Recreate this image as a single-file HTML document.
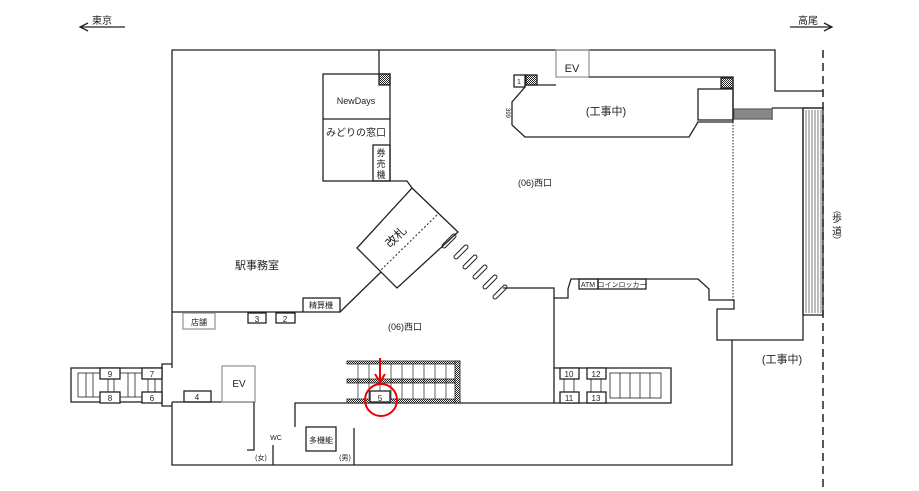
<!DOCTYPE html>
<html><head><meta charset="utf-8"><style>
html,body{margin:0;padding:0;background:#fff;}
svg{display:block;font-family:"Liberation Sans","Noto Sans CJK JP",sans-serif;}
</style></head><body>
<svg width="919" height="491" viewBox="0 0 919 491" xmlns="http://www.w3.org/2000/svg">
<defs>
<pattern id="h" width="2" height="2" patternUnits="userSpaceOnUse"><rect width="2" height="2" fill="#fff"/><rect width="1" height="1" fill="#222"/><rect x="1" y="1" width="1" height="1" fill="#222"/></pattern>
</defs>
<g fill="none" stroke="#222" stroke-width="1.3">
<line x1="80" y1="27" x2="125" y2="27"/><polyline points="88,23 80,27 88,31"/>
<line x1="790" y1="27" x2="832" y2="27"/><polyline points="824,23 832,27 824,31"/>
<polyline points="172,368 172,50 775,50 775,91 823,91"/>
<polyline points="172,402 172,465 732,465 732,340 803,340 803,108 823,108"/>
<polyline points="732,340 717,340 717,309 734,309 734,300 709,300 709,289 698,279 571,279 568,289 568,298 554,298 554,288 503,288"/>
<line x1="554" y1="298" x2="554" y2="368"/>
<line x1="823" y1="50" x2="823" y2="491" stroke-dasharray="8,5" stroke-width="1.5"/>
<rect x="803" y="108" width="20" height="207"/>
<g stroke-width="0.6"><line x1="806" y1="110" x2="806" y2="313"/><line x1="809" y1="110" x2="809" y2="313"/><line x1="812" y1="110" x2="812" y2="313"/><line x1="815" y1="110" x2="815" y2="313"/><line x1="818" y1="110" x2="818" y2="313"/><line x1="821" y1="110" x2="821" y2="313"/></g>
<line x1="772" y1="108" x2="803" y2="108"/><line x1="772" y1="108" x2="772" y2="120"/>
<rect x="734" y="109" width="38" height="10" fill="#888" stroke="#666"/>
<rect x="556" y="50" width="33" height="27" stroke="#999"/>
<polyline points="589,77 733,77 733,122 698,122 689,137 525,137 512,125 512,102 525,87 525,85 556,85"/>
<rect x="698" y="89" width="35" height="31"/>
<rect x="514" y="75" width="11" height="12"/>
<rect x="526" y="75" width="11" height="10" fill="url(#h)"/>
<rect x="721" y="78" width="12" height="10" fill="url(#h)"/>
<line x1="733" y1="122" x2="733" y2="300" stroke-dasharray="1.5,1.5" stroke-width="1"/>
<line x1="379" y1="50" x2="379" y2="74"/>
<rect x="323" y="74" width="67" height="107"/>
<line x1="323" y1="119" x2="390" y2="119"/>
<rect x="373" y="145" width="17" height="36"/>
<rect x="379" y="74" width="11" height="11" fill="url(#h)"/>
<polyline points="390,181 407,181 412,188"/>
<polygon points="412,188 458,232 397,288 357,248"/>
<line x1="437" y1="215" x2="381" y2="270" stroke-dasharray="2,2" stroke-width="1"/>
<line x1="381" y1="272" x2="340" y2="312"/>
<g stroke-width="1"><rect x="-2" y="-9" width="4" height="18" rx="2" transform="translate(449,241) rotate(45)"/><rect x="-2" y="-9" width="4" height="18" rx="2" transform="translate(461,252) rotate(45)"/><rect x="-2" y="-9" width="4" height="18" rx="2" transform="translate(470,262) rotate(45)"/><rect x="-2" y="-9" width="4" height="18" rx="2" transform="translate(480,272) rotate(45)"/><rect x="-2" y="-9" width="4" height="18" rx="2" transform="translate(490,282) rotate(45)"/><rect x="-2" y="-9" width="4" height="18" rx="2" transform="translate(500,292) rotate(45)"/></g>
<line x1="172" y1="312" x2="303" y2="312"/>
<rect x="303" y="298" width="37" height="14"/>
<rect x="183" y="313" width="32" height="16" stroke="#999"/>
<rect x="248" y="313" width="18" height="10"/>
<rect x="276" y="313" width="19" height="10"/>
<rect x="71" y="368" width="91" height="34"/>
<rect x="78" y="373" width="84" height="24" stroke-width="0.8"/>
<g stroke-width="0.8"><line x1="86" y1="373" x2="86" y2="397"/><line x1="93" y1="373" x2="93" y2="397"/><line x1="108" y1="379" x2="108" y2="392"/><line x1="114" y1="379" x2="114" y2="392"/><line x1="128" y1="373" x2="128" y2="397"/><line x1="135" y1="373" x2="135" y2="397"/><line x1="148" y1="379" x2="148" y2="392"/><line x1="155" y1="379" x2="155" y2="392"/></g>
<polyline points="162,368 162,364 172,364"/><polyline points="162,402 162,406 172,406"/>
<rect x="100" y="368" width="20" height="11" fill="#fff"/><rect x="100" y="392" width="20" height="11" fill="#fff"/>
<rect x="142" y="368" width="20" height="11" fill="#fff"/><rect x="142" y="392" width="20" height="11" fill="#fff"/>
<line x1="172" y1="402" x2="254" y2="402"/>
<rect x="184" y="391" width="27" height="11"/>
<rect x="222" y="366" width="33" height="36" stroke="#999"/>
<polyline points="254,402 254,450 247,450"/>
<line x1="273" y1="445" x2="273" y2="465"/>
<line x1="354" y1="428" x2="354" y2="465"/>
<polyline points="295,427 295,403 554,403"/>
<rect x="306" y="427" width="30" height="24"/>
<rect x="347" y="361" width="113" height="3" fill="url(#h)" stroke-width="0.8"/>
<rect x="347" y="379" width="108" height="4" fill="url(#h)" stroke-width="0.8"/>
<rect x="347" y="399" width="113" height="4" fill="url(#h)" stroke-width="0.8"/>
<rect x="455" y="361" width="5" height="42" fill="url(#h)" stroke-width="0.8"/>
<g stroke-width="0.7"><line x1="358" y1="364" x2="358" y2="399"/><line x1="369" y1="364" x2="369" y2="399"/><line x1="380" y1="364" x2="380" y2="399"/><line x1="391" y1="364" x2="391" y2="399"/><line x1="402" y1="364" x2="402" y2="399"/><line x1="413" y1="364" x2="413" y2="399"/><line x1="424" y1="364" x2="424" y2="399"/><line x1="435" y1="364" x2="435" y2="399"/><line x1="446" y1="364" x2="446" y2="399"/></g>
<rect x="370" y="391" width="20" height="11" fill="#fff"/>
<rect x="554" y="368" width="117" height="35"/>
<rect x="610" y="373" width="51" height="25" stroke-width="0.8"/>
<g stroke-width="0.8"><line x1="620" y1="373" x2="620" y2="398"/><line x1="630" y1="373" x2="630" y2="398"/><line x1="640" y1="373" x2="640" y2="398"/><line x1="650" y1="373" x2="650" y2="398"/><line x1="564" y1="379" x2="564" y2="392"/><line x1="574" y1="379" x2="574" y2="392"/><line x1="591" y1="379" x2="591" y2="392"/><line x1="601" y1="379" x2="601" y2="392"/></g>
<rect x="560" y="368" width="19" height="11" fill="#fff"/><rect x="560" y="392" width="19" height="11" fill="#fff"/>
<rect x="587" y="368" width="19" height="11" fill="#fff"/><rect x="587" y="392" width="19" height="11" fill="#fff"/>
<rect x="579" y="279" width="19" height="10"/><rect x="598" y="279" width="48" height="10"/>
</g>
<g stroke="#e00" fill="none" stroke-width="2">
<circle cx="381" cy="400" r="16"/>
<line x1="380" y1="358" x2="380" y2="381"/>
<polyline points="375,374 380,382 385,374"/>
</g>
<g fill="#222" font-size="9" text-anchor="middle">
<text x="102" y="24" font-size="10">東京</text>
<text x="808" y="24" font-size="10">高尾</text>
<text x="572" y="72" font-size="11">EV</text>
<text x="519" y="84" font-size="7">1</text>
<text x="606" y="115" font-size="11">(工事中)</text>
<text x="506" y="113" font-size="6" transform="rotate(90 506 113)">399</text>
<text x="356" y="104">NewDays</text>
<text x="356" y="136" font-size="10">みどりの窓口</text>
<text x="381" y="156">券</text><text x="381" y="167">売</text><text x="381" y="178">機</text>
<text x="535" y="186">(06)西口</text>
<text x="405" y="330">(06)西口</text>
<text x="257" y="269" font-size="11">駅事務室</text>
<text x="396" y="241" font-size="12" transform="rotate(-45 396 237)">改札</text>
<text x="321" y="308" font-size="8">精算機</text>
<text x="199" y="325" font-size="8">店舗</text>
<text x="257" y="322" font-size="8">3</text><text x="285" y="322" font-size="8">2</text>
<text x="110" y="377" font-size="8">9</text><text x="110" y="401" font-size="8">8</text>
<text x="152" y="377" font-size="8">7</text><text x="152" y="401" font-size="8">6</text>
<text x="197" y="400" font-size="8">4</text>
<text x="239" y="387" font-size="10">EV</text>
<text x="380" y="401" font-size="8">5</text>
<text x="276" y="440" font-size="7">WC</text>
<text x="261" y="460" font-size="7">(女)</text>
<text x="345" y="460" font-size="7">(男)</text>
<text x="321" y="443" font-size="8">多機能</text>
<text x="569" y="377" font-size="8">10</text><text x="569" y="401" font-size="8">11</text>
<text x="596" y="377" font-size="8">12</text><text x="596" y="401" font-size="8">13</text>
<text x="588" y="287" font-size="7">ATM</text>
<text x="622" y="287" font-size="7">コインロッカー</text>
<text x="782" y="363" font-size="11">(工事中)</text>
<text x="837" y="213" font-size="8">︵</text>
<text x="837" y="222" font-size="10">歩</text>
<text x="837" y="235" font-size="10">道</text>
<text x="837" y="243" font-size="8">︶</text>
</g>
</svg>
</body></html>
